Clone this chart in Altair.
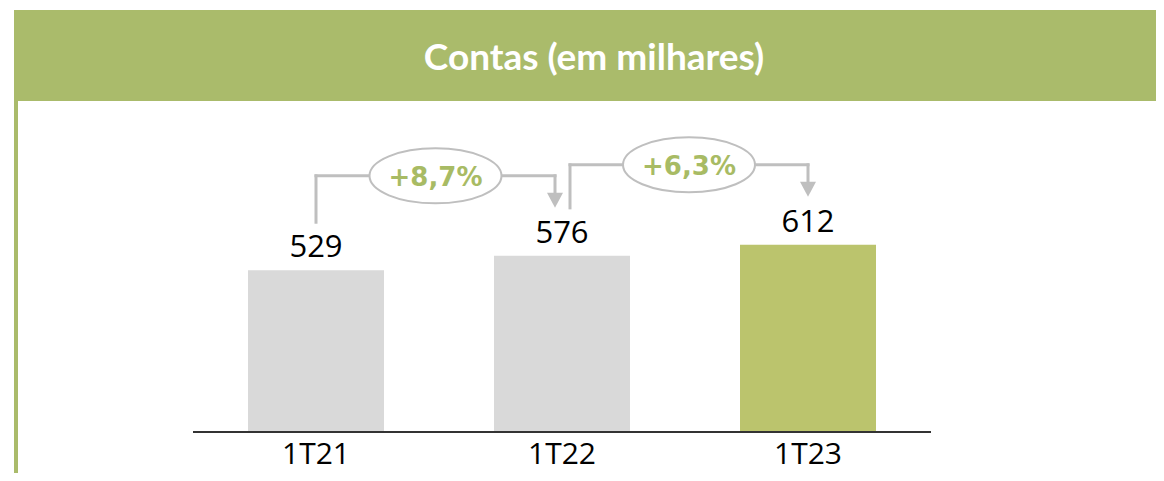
import altair as alt
import pandas as pd

# ---- data ----
categories = ["1T21", "1T22", "1T23"]
values = [529, 576, 612]
growth_labels = ["+8,7%", "+6,3%"]
title_text = "Contas (em milhares)"

# ---- style / layout constants ----
W, H = 1148, 465
PX_PER_UNIT = 0.3058          # vertical pixels per value unit
BASE_Y = 424                  # plot y of value 0
STEP = 246                    # pixels between bar centers
FIRST_X = 308                 # plot x of first bar center
BAR_W = 136
Y_DOMAIN = [-(H - BASE_Y) / PX_PER_UNIT, BASE_Y / PX_PER_UNIT]
X_DOMAIN = [-FIRST_X / STEP, (W - FIRST_X) / STEP]
PXY = 1 / PX_PER_UNIT
PXX = 1 / STEP

HEADER_GREEN = "#AABB6B"
BAR_GREEN = "#BBC46D"
BAR_GRAY = "#D9D9D9"
LINE_GRAY = "#BFBFBF"
PCT_GREEN = "#A8BB64"

xs_ = alt.Scale(domain=X_DOMAIN, nice=False, zero=False)
ys_ = alt.Scale(domain=Y_DOMAIN, nice=False, zero=False)

bars_df = pd.DataFrame({"cat": categories, "value": values, "idx": range(len(values))})
bars_df["x0"] = bars_df["idx"] - (BAR_W / 2) * PXX
bars_df["x1"] = bars_df["idx"] + (BAR_W / 2) * PXX

segs, ells, arrows = [], [], []
n = len(values)
for i in range(n - 1):
    xs = i + (8 * PXX if i > 0 else 0)
    xe = (i + 1) - (7 * PXX if i + 1 < n - 1 else 0)
    ys = values[i] + 48 * PXY
    level = max(values[i], values[i + 1]) + 80 * PXY
    arrow_c = values[i + 1] + 56 * PXY
    segs += [
        {"x": xs, "x2": xs, "y": ys, "y2": level},
        {"x": xs, "x2": xe, "y": level, "y2": level},
        {"x": xe, "x2": xe, "y": level, "y2": arrow_c},
    ]
    ells.append({"x": (xs + xe) / 2, "y": level, "label": growth_labels[i]})
    arrows.append({"x": xe, "y": arrow_c})
segs_df = pd.DataFrame(segs)
ells_df = pd.DataFrame(ells)
arrows_df = pd.DataFrame(arrows)

hdr_df = pd.DataFrame({"t": [title_text]})

ELLIPSE = ("M -1 0 C -1 -0.2301 -0.5523 -0.4167 0 -0.4167 "
           "C 0.5523 -0.4167 1 -0.2301 1 0 "
           "C 1 0.2301 0.5523 0.4167 0 0.4167 "
           "C -0.5523 0.4167 -1 0.2301 -1 0 Z")
TRI = "M -1 -0.9 L 1 -0.9 L 0 1 Z"

header = alt.Chart(hdr_df).mark_rect(color=HEADER_GREEN).encode(
    x=alt.value(6), x2=alt.value(W), y=alt.value(2), y2=alt.value(93))
side = alt.Chart(hdr_df).mark_rect(color=HEADER_GREEN).encode(
    x=alt.value(6), x2=alt.value(10), y=alt.value(93), y2=alt.value(H))
title = alt.Chart(hdr_df).mark_text(
    font="Lato", fontWeight="bold", fontSize=37, color="white",
    align="center", baseline="alphabetic").encode(
    x=alt.value(586), y=alt.value(62), text="t:N")

bars = alt.Chart(bars_df).mark_rect().encode(
    x=alt.X("x0:Q", scale=xs_, axis=None),
    x2="x1:Q",
    y=alt.Y("value:Q", scale=ys_, axis=None),
    y2=alt.Y2Datum(0),
    color=alt.Color("cat:N", scale=alt.Scale(domain=categories,
                    range=[BAR_GRAY, BAR_GRAY, BAR_GREEN]), legend=None),
)

baseline = alt.Chart(hdr_df).mark_rule(color="#333333", strokeWidth=2).encode(
    x=alt.X(datum=-0.5, scale=xs_, type="quantitative"),
    x2=alt.datum(n - 0.5),
    y=alt.Y(datum=0, scale=ys_, type="quantitative"),
)

value_labels = alt.Chart(bars_df).mark_text(
    font="Open Sans", fontSize=31, color="black", align="center",
    baseline="alphabetic", dy=-13).encode(
    x=alt.X("idx:Q", scale=xs_), y=alt.Y("value:Q", scale=ys_), text="value:Q")

cat_labels = alt.Chart(bars_df).mark_text(
    font="Open Sans", fontSize=30, color="black", align="center",
    baseline="alphabetic").encode(
    x=alt.X("idx:Q", scale=xs_), y=alt.value(456), text="cat:N")

rules = alt.Chart(segs_df).mark_rule(color=LINE_GRAY, strokeWidth=3, strokeCap="square").encode(
    x=alt.X("x:Q", scale=xs_), x2="x2:Q",
    y=alt.Y("y:Q", scale=ys_), y2="y2:Q")

arrow_pts = alt.Chart(arrows_df).mark_point(
    shape=TRI, size=256, filled=True, color=LINE_GRAY, opacity=1).encode(
    x=alt.X("x:Q", scale=xs_), y=alt.Y("y:Q", scale=ys_))

ellipses = alt.Chart(ells_df).mark_point(
    shape=ELLIPSE, size=132 * 132, fill="white", fillOpacity=1,
    stroke=LINE_GRAY, strokeWidth=2, strokeOpacity=1, opacity=1).encode(
    x=alt.X("x:Q", scale=xs_), y=alt.Y("y:Q", scale=ys_))

pct = alt.Chart(ells_df).mark_text(
    font="DejaVu Sans", fontWeight="bold", fontSize=26, color=PCT_GREEN,
    align="center", baseline="alphabetic", dy=10).encode(
    x=alt.X("x:Q", scale=xs_), y=alt.Y("y:Q", scale=ys_), text="label:N")

chart = alt.layer(
    header, side, title, bars, baseline, value_labels, cat_labels,
    rules, arrow_pts, ellipses, pct
).properties(
    width=W, height=H, padding=0, autosize="none",
).configure_view(stroke=None)

chart.save("out.html", embed_options={"renderer": "svg", "actions": False})
